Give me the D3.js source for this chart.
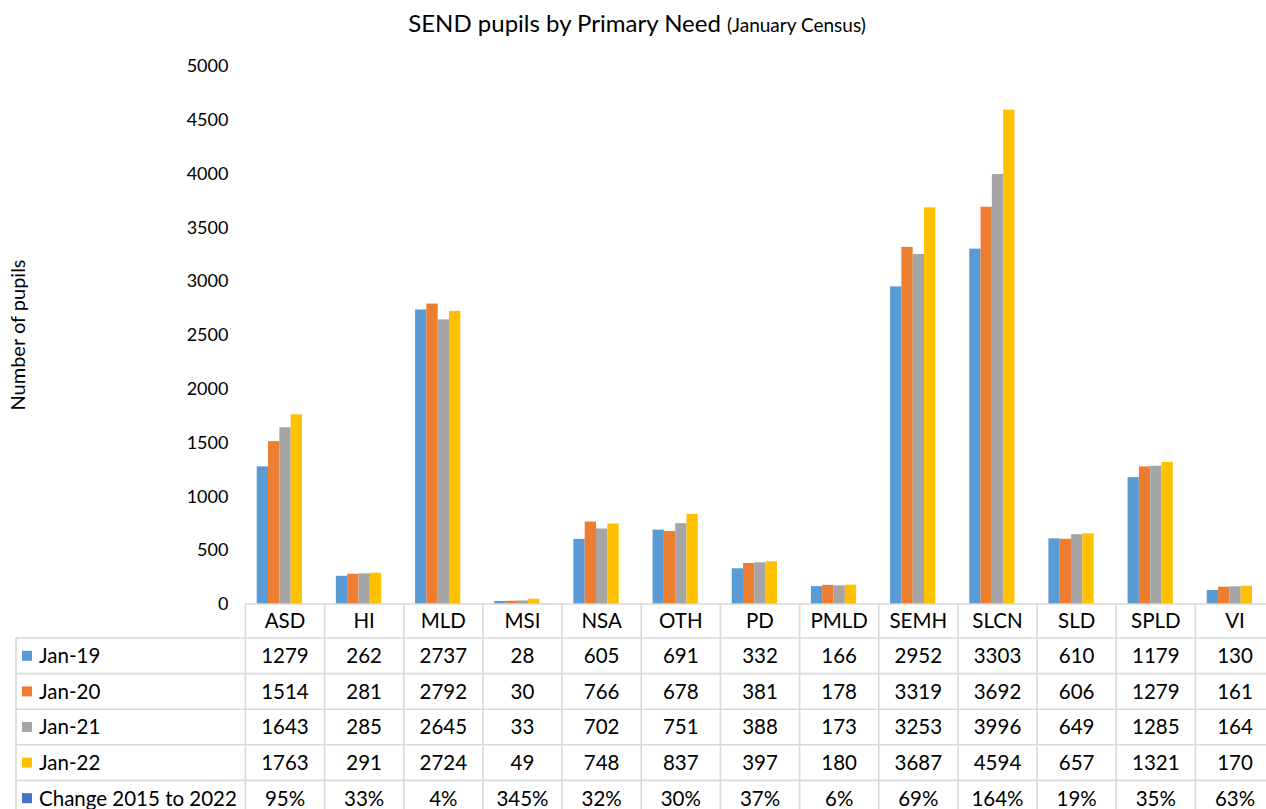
<!DOCTYPE html>
<html>
<head>
<meta charset="utf-8">
<script src="https://cdn.jsdelivr.net/npm/d3@7"></script>
<style>
  body { margin: 0; background: #fff; }
  svg { display: block; font-family: Lato, "Open Sans", sans-serif; }
</style>
</head>
<body>
<script>
// categories (primary need)
const needs = ["ASD", "HI", "MLD", "MSI", "NSA", "OTH", "PD", "PMLD", "SEMH", "SLCN", "SLD", "SPLD", "VI"];

// series values, one per census
const jan19 = [1279, 262, 2737, 28, 605, 691, 332, 166, 2952, 3303, 610, 1179, 130];
const jan20 = [1514, 281, 2792, 30, 766, 678, 381, 178, 3319, 3692, 606, 1279, 161];
const jan21 = [1643, 285, 2645, 33, 702, 751, 388, 173, 3253, 3996, 649, 1285, 164];
const jan22 = [1763, 291, 2724, 49, 748, 837, 397, 180, 3687, 4594, 657, 1321, 170];
// change 2015 to 2022 (a ratio, so its bars sit flat on the axis)
const change = [0.95, 0.33, 0.04, 3.45, 0.32, 0.30, 0.37, 0.06, 0.69, 1.64, 0.19, 0.35, 0.63];

const seriesNames = ["Jan-19", "Jan-20", "Jan-21", "Jan-22", "Change 2015 to 2022"];
const yTicks = [0, 500, 1000, 1500, 2000, 2500, 3000, 3500, 4000, 4500, 5000];

const series = [
  { name: seriesNames[0], values: jan19, color: "#5B9BD5", fmt: (v) => v },
  { name: seriesNames[1], values: jan20, color: "#ED7D31", fmt: (v) => v },
  { name: seriesNames[2], values: jan21, color: "#A5A5A5", fmt: (v) => v },
  { name: seriesNames[3], values: jan22, color: "#FFC000", fmt: (v) => v },
  { name: seriesNames[4], values: change, color: "#4472C4", fmt: (v) => Math.round(v * 100) + "%" }
];

const width = 1266;
const height = 809;

// plot area
const plotLeft = 245.4;
const plotRight = 1274.6;
const plotTop = 66;
const base = 604;
const rowH = 35.6;
const headerH = 34;
const tableLeft = 16;
const gridColor = "#d9d9d9";

const svg = d3.select("body").append("svg")
  .attr("width", width)
  .attr("height", height);

const x = d3.scaleBand().domain(needs).range([plotLeft, plotRight]).paddingInner(0).paddingOuter(0);
const bw = x.bandwidth();
// gap width 200% -> one bar width on each side of the cluster
const xs = d3.scaleBand().domain(seriesNames).range([bw / 7, bw * 6 / 7]);
const y = d3.scaleLinear().domain([0, 5000]).range([base, plotTop]);

// title
const title = svg.append("text")
  .attr("x", 637)
  .attr("y", 32)
  .attr("text-anchor", "middle")
  .attr("fill", "#000");
title.append("tspan").attr("font-size", "24px").text("SEND pupils by Primary Need ");
title.append("tspan").attr("font-size", "19px").text("(January Census)");

// y axis
const yAxis = svg.append("g")
  .attr("transform", `translate(${plotLeft - 8},0)`)
  .call(d3.axisLeft(y).tickValues(yTicks).tickSize(0).tickPadding(9).tickFormat(d3.format("d")));
yAxis.select(".domain").remove();
yAxis.selectAll("text")
  .attr("font-family", "Lato, sans-serif")
  .attr("font-size", "18px")
  .attr("fill", "#000");

svg.append("text")
  .attr("transform", `translate(25,${(plotTop + base) / 2}) rotate(-90)`)
  .attr("text-anchor", "middle")
  .attr("font-size", "20px")
  .attr("fill", "#000")
  .text("Number of pupils");

// bars
const groups = svg.append("g")
  .selectAll("g")
  .data(series)
  .join("g")
  .attr("fill", (d) => d.color);

groups.selectAll("rect")
  .data((s) => s.values.map((v, i) => ({ name: s.name, need: needs[i], value: v })))
  .join("rect")
  .attr("x", (d) => x(d.need) + xs(d.name))
  .attr("y", (d) => y(d.value))
  .attr("width", xs.bandwidth())
  .attr("height", (d) => base - y(d.value));

// data table
const table = svg.append("g").attr("stroke", gridColor).attr("stroke-width", 1.6);
const rowsBottom = base + headerH + rowH * series.length;

// horizontal lines
table.append("line").attr("x1", plotLeft).attr("x2", plotRight).attr("y1", base).attr("y2", base);
d3.range(series.length + 1).forEach((i) => {
  const yy = base + headerH + rowH * i;
  table.append("line").attr("x1", tableLeft).attr("x2", plotRight).attr("y1", yy).attr("y2", yy);
});
// vertical lines
table.append("line").attr("x1", tableLeft).attr("x2", tableLeft)
  .attr("y1", base + headerH).attr("y2", rowsBottom);
needs.concat([null]).forEach((n, i) => {
  const xx = plotLeft + bw * i;
  table.append("line").attr("x1", xx).attr("x2", xx).attr("y1", base).attr("y2", rowsBottom);
});

// header labels
svg.append("g")
  .selectAll("text")
  .data(needs)
  .join("text")
  .attr("x", (d) => x(d) + bw / 2)
  .attr("y", base + headerH / 2)
  .attr("dy", "0.36em")
  .attr("text-anchor", "middle")
  .attr("font-size", "20.5px")
  .attr("fill", "#000")
  .text((d) => d);

// rows
series.forEach((s, r) => {
  const cy = base + headerH + rowH * r + rowH / 2;
  svg.append("rect")
    .attr("x", 22)
    .attr("y", cy - 5)
    .attr("width", 10)
    .attr("height", 10)
    .attr("fill", s.color);
  svg.append("text")
    .attr("x", 39)
    .attr("y", cy)
    .attr("dy", "0.36em")
    .attr("font-size", "20.5px")
    .attr("fill", "#000")
    .text(s.name);
  svg.append("g")
    .selectAll("text")
    .data(s.values)
    .join("text")
    .attr("x", (d, i) => x(needs[i]) + bw / 2)
    .attr("y", cy)
    .attr("dy", "0.36em")
    .attr("text-anchor", "middle")
    .attr("font-size", "20.5px")
    .attr("fill", "#000")
    .text((d) => s.fmt(d));
});
</script>
</body>
</html>
